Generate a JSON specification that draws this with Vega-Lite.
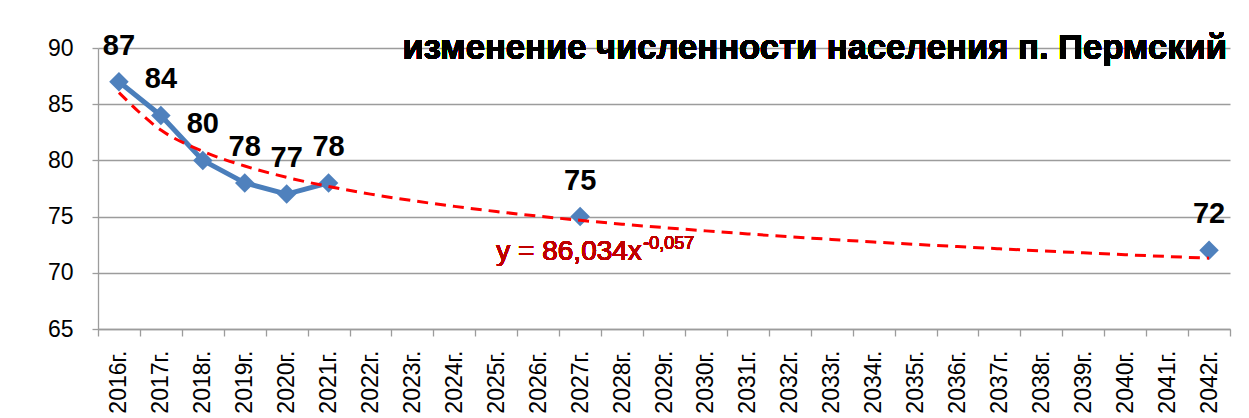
{
  "$schema": "https://vega.github.io/schema/vega-lite/v6.json",
  "width": 1132,
  "height": 281,
  "autosize": {"type": "none"},
  "padding": {"left": 98, "top": 48, "right": 19, "bottom": 89},
  "background": "white",
  "config": {"view": {"stroke": null}, "font": "Liberation Sans"},
  "data": {
    "values": [
      {"year": "2016г.", "n": 1, "pop": 87, "trend": 86.03},
      {"year": "2017г.", "n": 2, "pop": 84, "trend": 82.70},
      {"year": "2018г.", "n": 3, "pop": 80, "trend": 80.81},
      {"year": "2019г.", "n": 4, "pop": 78, "trend": 79.50},
      {"year": "2020г.", "n": 5, "pop": 77, "trend": 78.49},
      {"year": "2021г.", "n": 6, "pop": 78, "trend": 77.68},
      {"year": "2022г.", "n": 7, "pop": null, "trend": 77.00},
      {"year": "2023г.", "n": 8, "pop": null, "trend": 76.42},
      {"year": "2024г.", "n": 9, "pop": null, "trend": 75.91},
      {"year": "2025г.", "n": 10, "pop": null, "trend": 75.45},
      {"year": "2026г.", "n": 11, "pop": null, "trend": 75.04},
      {"year": "2027г.", "n": 12, "pop": 75, "trend": 74.67},
      {"year": "2028г.", "n": 13, "pop": null, "trend": 74.33},
      {"year": "2029г.", "n": 14, "pop": null, "trend": 74.02},
      {"year": "2030г.", "n": 15, "pop": null, "trend": 73.73},
      {"year": "2031г.", "n": 16, "pop": null, "trend": 73.46},
      {"year": "2032г.", "n": 17, "pop": null, "trend": 73.20},
      {"year": "2033г.", "n": 18, "pop": null, "trend": 72.97},
      {"year": "2034г.", "n": 19, "pop": null, "trend": 72.74},
      {"year": "2035г.", "n": 20, "pop": null, "trend": 72.53},
      {"year": "2036г.", "n": 21, "pop": null, "trend": 72.33},
      {"year": "2037г.", "n": 22, "pop": null, "trend": 72.14},
      {"year": "2038г.", "n": 23, "pop": null, "trend": 71.95},
      {"year": "2039г.", "n": 24, "pop": null, "trend": 71.78},
      {"year": "2040г.", "n": 25, "pop": null, "trend": 71.61},
      {"year": "2041г.", "n": 26, "pop": null, "trend": 71.45},
      {"year": "2042г.", "n": 27, "pop": 72, "trend": 71.30}
    ]
  },
  "encoding": {
    "x": {
      "field": "year",
      "type": "nominal",
      "sort": null,
      "scale": {
        "type": "band",
        "paddingInner": 0,
        "paddingOuter": 0,
        "domain": ["2016г.", "2017г.", "2018г.", "2019г.", "2020г.", "2021г.", "2022г.", "2023г.", "2024г.", "2025г.", "2026г.", "2027г.", "2028г.", "2029г.", "2030г.", "2031г.", "2032г.", "2033г.", "2034г.", "2035г.", "2036г.", "2037г.", "2038г.", "2039г.", "2040г.", "2041г.", "2042г."]
      },
      "axis": {
        "title": null,
        "labelAngle": -90,
        "tickBand": "extent",
        "tickSize": 7,
        "tickColor": "#9c9c9c",
        "tickWidth": 1.3,
        "domainColor": "#9c9c9c",
        "domainWidth": 1.3,
        "labelPadding": 14,
        "labelFontSize": 23,
        "labelFont": "Liberation Sans",
        "labelColor": "#000000",
        "grid": false
      }
    }
  },
  "layer": [
    {
      "transform": [{"filter": "datum.n <= 6"}],
      "mark": {"type": "line", "color": "#4a7ebb", "strokeWidth": 5, "strokeJoin": "round"},
      "encoding": {
        "y": {
          "field": "pop",
          "type": "quantitative",
          "scale": {"domain": [65, 90], "nice": false, "zero": false},
          "axis": {
            "title": null,
            "values": [65, 70, 75, 80, 85, 90],
            "grid": true,
            "gridColor": "#9c9c9c",
            "gridWidth": 1.3,
            "domainColor": "#9c9c9c",
            "domainWidth": 1.3,
            "tickColor": "#9c9c9c",
            "tickWidth": 1.3,
            "tickSize": 6,
            "labelPadding": 19,
            "labelFontSize": 23,
            "labelFont": "Liberation Sans",
            "labelColor": "#000000"
          }
        }
      }
    },
    {
      "transform": [{"filter": "isValid(datum.pop)"}],
      "mark": {"type": "point", "shape": "diamond", "filled": true, "size": 380, "color": "#4f81bd", "opacity": 1},
      "encoding": {
        "y": {"field": "pop", "type": "quantitative"}
      }
    },
    {
      "mark": {"type": "line", "color": "#ff0000", "strokeWidth": 3, "strokeDash": [11, 7], "interpolate": "monotone"},
      "encoding": {
        "y": {"field": "trend", "type": "quantitative"}
      }
    },
    {
      "transform": [{"filter": "isValid(datum.pop)"}],
      "mark": {"type": "text", "font": "Liberation Sans", "fontSize": 29, "fontWeight": "bold", "color": "#000000", "baseline": "alphabetic", "align": "center", "dy": -27},
      "encoding": {
        "y": {"field": "pop", "type": "quantitative"},
        "text": {"field": "pop", "type": "quantitative"}
      }
    },
    {
      "mark": {"type": "text", "font": "Liberation Sans", "fontSize": 28, "fontWeight": "normal", "color": "#c00000", "baseline": "alphabetic", "align": "left"},
      "encoding": {
        "x": {"datum": "2025г."},
        "y": {"datum": 71.14},
        "text": {"value": "y = 86,034x"}
      }
    },
    {
      "mark": {"type": "text", "font": "Liberation Sans", "fontSize": 18, "fontWeight": "normal", "color": "#c00000", "baseline": "alphabetic", "align": "left", "dx": 147, "dy": -11},
      "encoding": {
        "x": {"datum": "2025г."},
        "y": {"datum": 71.14},
        "text": {"value": "-0,057"}
      }
    },
    {
      "mark": {"type": "text", "font": "Liberation Sans", "fontSize": 34.6, "fontWeight": "bold", "color": "#000000", "baseline": "alphabetic", "align": "right", "dx": 18, "dy": 11},
      "encoding": {
        "x": {"datum": "2042г."},
        "y": {"datum": 90},
        "text": {"value": "изменение численности населения п. Пермский"}
      }
    }
  ]
}
